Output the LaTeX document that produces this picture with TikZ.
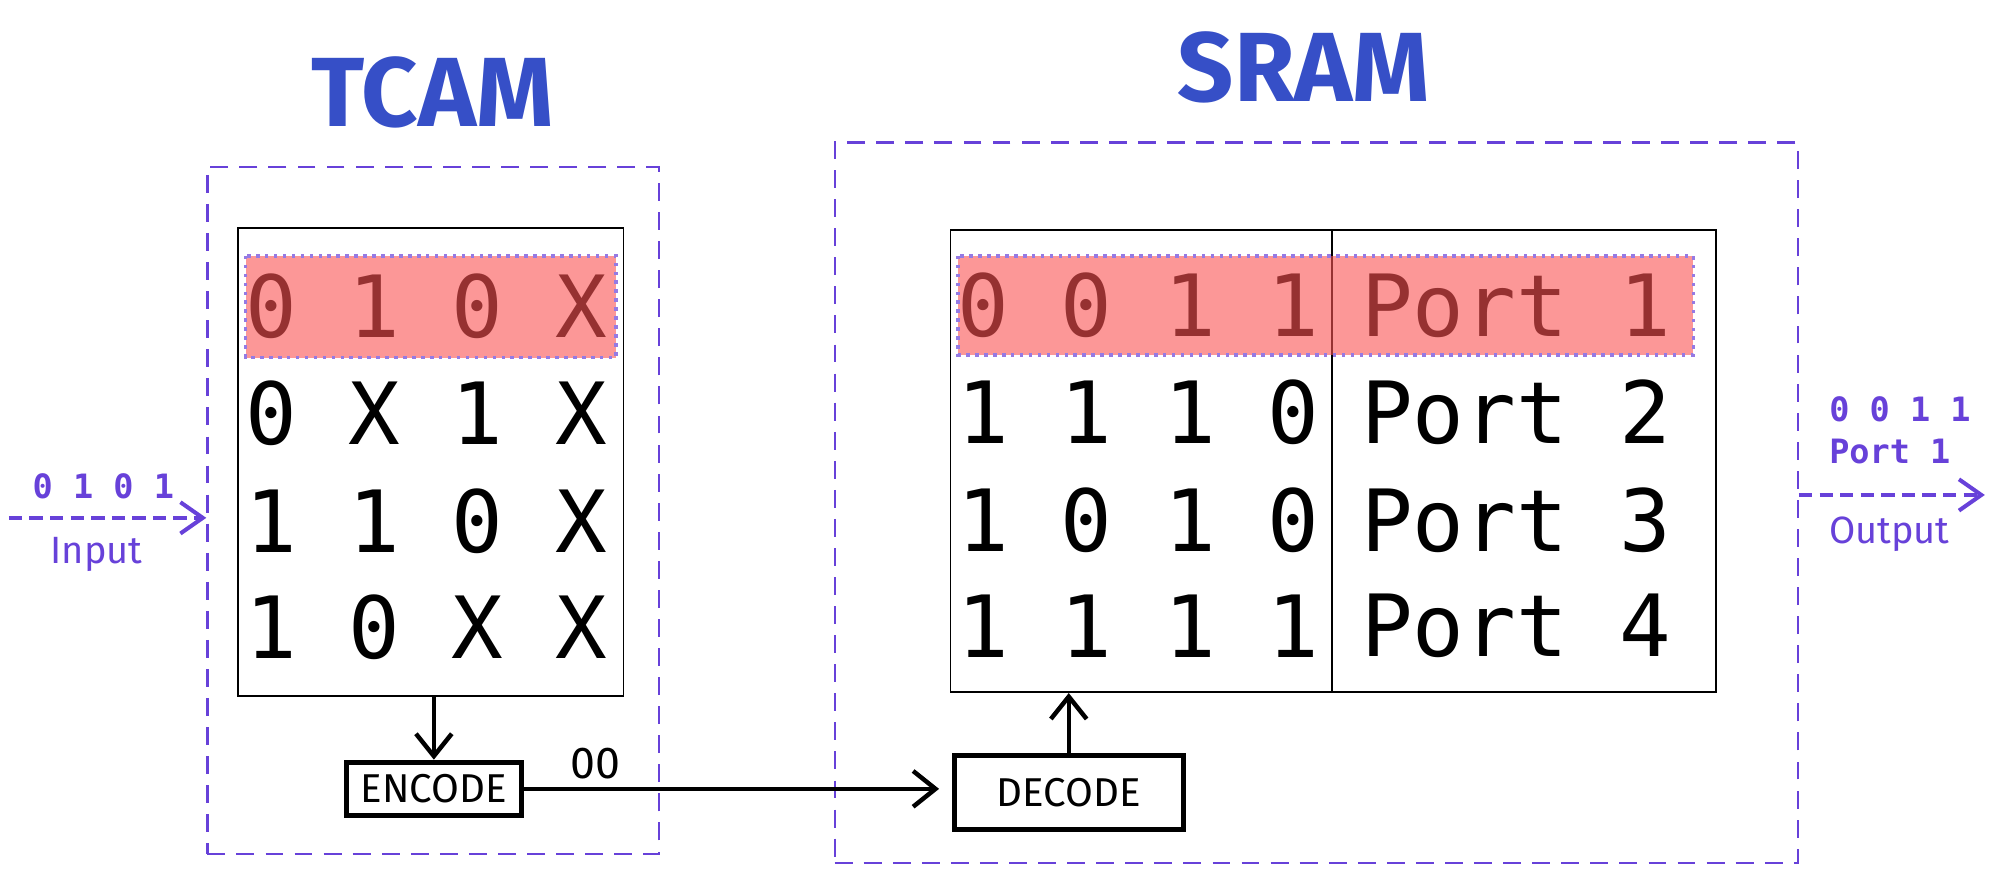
\documentclass[tikz,border=0pt]{standalone}
\usepackage{fontspec}
\usetikzlibrary{arrows.meta}
\newfontfamily\cellfont[WordSpace={1,0,0}]{DejaVu Sans Mono}
\newfontfamily\sketchfont{Fira Sans}
\definecolor{titleblue}{RGB}{54,79,199}
\definecolor{zoneviolet}{RGB}{103,65,217}
\definecolor{hlred}{RGB}{250,82,82}
\begin{document}
\begin{tikzpicture}[x=1cm,y=-1cm,every node/.style={inner sep=0pt},
    zone/.style={draw=zoneviolet,line width=0.5pt,dash pattern=on 4pt off 2.5pt},
    tablebox/.style={draw,line width=0.4pt},
    cell/.style={anchor=west,font=\cellfont\fontsize{19.2}{23}\selectfont},
    coder/.style={draw,line width=1.1pt,font=\sketchfont\fontsize{9}{11}\selectfont},
    title/.style={text=titleblue,font=\sketchfont\bfseries\fontsize{22}{26}\selectfont},
    hl/.style={fill=hlred,fill opacity=0.6},
    hlborder/.style={draw=zoneviolet!70,line width=0.8pt,dash pattern=on 0.8pt off 1.2pt},
    flow/.style={-{Straight Barb[length=5pt,width=8pt]},line width=1pt},
    io/.style={zoneviolet,dash pattern=on 3pt off 1.6pt,line width=0.9pt,-{Straight Barb[length=5pt,width=7pt]}},
    iobits/.style={anchor=west,text=zoneviolet,font=\cellfont\bfseries\fontsize{7.5}{9}\selectfont},
    iolabel/.style={text=zoneviolet,font=\sketchfont\fontsize{8.5}{10}\selectfont}]
    \useasboundingbox(0,0)rectangle(15.68,6.86);
    \node[title](tt)at(3.40,0.73){TCAM};
    \node[title](st)at(10.25,0.53){SRAM};
    \node[zone,minimum width=3.55cm,minimum height=5.40cm](tz)at(3.405,4.01){};
    \node[zone,minimum width=7.57cm,minimum height=5.66cm](sz)at(10.345,3.95){};
    \node[tablebox,minimum width=3.03cm,minimum height=3.68cm](tcam)at(3.385,3.63){};
    \node[tablebox,minimum width=3.00cm,minimum height=3.63cm](bits)at(8.97,3.625){};
    \node[tablebox,minimum width=3.02cm,minimum height=3.63cm](ports)at(11.98,3.625){};
    \foreach \y/\t[count=\i] in{2.41/0 1 0 X,3.25/0 X 1 X,4.10/1 1 0 X,4.93/1 0 X X}
	\node[cell](t\i)at(1.92,\y){\t};
    \foreach \y/\b/\p[count=\i] in{2.40/0 0 1 1/1,3.24/1 1 1 0/2,4.09/1 0 1 0/3,4.92/1 1 1 1/4}
	{\node[cell](b\i)at(7.517,\y){\b};
		\node[cell](p\i)at(10.69,\y){Port \p};
	}
    \fill[hl](1.93,2.01)rectangle(4.84,2.81);
    \draw[hlborder](1.93,2.01)rectangle(4.84,2.81);
    \fill[hl](7.53,2.01)rectangle(13.31,2.79);
    \draw[hlborder](7.53,2.01)rectangle(13.31,2.79);
    \node[coder,minimum width=1.38cm,minimum height=0.42cm](enc)at(3.41,6.20){ENCODE};
    \node[coder,minimum width=1.80cm,minimum height=0.58cm](dec)at(8.40,6.23){DECODE};
    \node[font=\sketchfont\fontsize{10}{12}\selectfont](code)at(4.68,6.00){00};
    \draw[flow](enc.north|-tcam.south)--(enc.north);
    \draw[flow,shorten >=0.1cm](enc.east)--(enc.east-|dec.west);
    \draw[flow](dec.north)--(dec.north|-bits.south);
    \node[iobits](inbits)at(0.25,3.82){0 1 0 1};
    \coordinate(in)at(0.07,4.07);
    \draw[io](in)--(in-|tz.west);
    \node[iolabel](inlbl)at(0.76,4.36){Input};
    \node[iobits](outbits)at(14.37,3.22){0 0 1 1};
    \node[iobits](outport)at(14.37,3.55){Port 1};
    \coordinate(out)at(15.60,3.89);
    \draw[io](out-|sz.east)--(out);
    \node[iolabel](outlbl)at(14.85,4.20){Output};
\end{tikzpicture}
\end{document}
